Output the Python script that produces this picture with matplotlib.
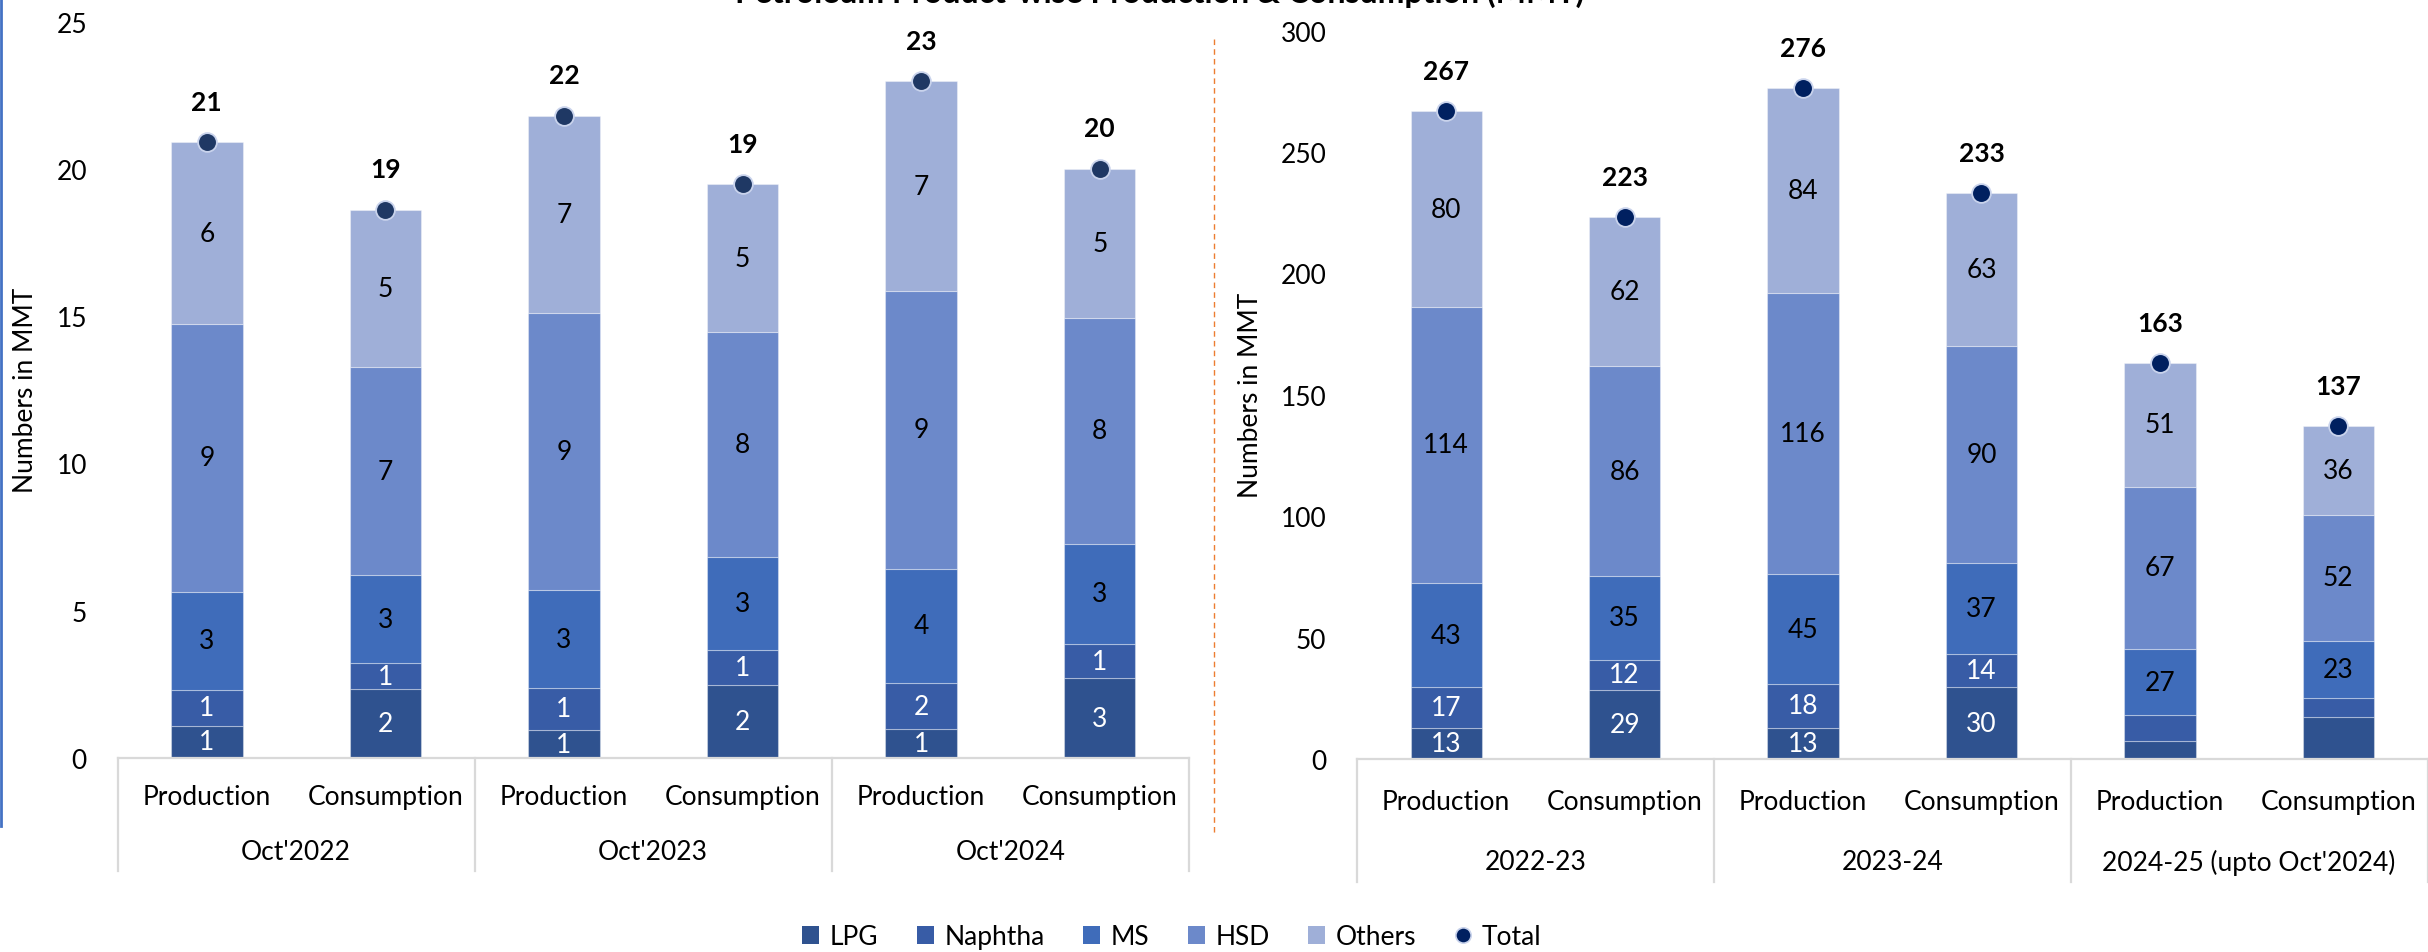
import matplotlib
matplotlib.use('Agg')
import matplotlib.pyplot as plt
from matplotlib.patches import Patch
from matplotlib.lines import Line2D

# ---------------- data ----------------
series_names = ['LPG', 'Naphtha', 'MS', 'HSD', 'Others']
sub_cats = ['Production', 'Consumption']
left_groups = ["Oct'2022", "Oct'2023", "Oct'2024"]
right_groups = ['2022-23', '2023-24', "2024-25 (upto Oct'2024)"]

left_lpg = [1.10, 2.34, 0.95, 2.47, 0.97, 2.70]
left_naphtha = [1.20, 0.87, 1.43, 1.20, 1.57, 1.18]
left_ms = [3.35, 2.99, 3.32, 3.15, 3.89, 3.40]
left_hsd = [9.10, 7.07, 9.40, 7.64, 9.43, 7.66]
left_others = [6.15, 5.35, 6.71, 5.02, 7.11, 5.07]
left_total = [20.90, 18.62, 21.81, 19.48, 22.97, 20.01]

right_lpg = [12.8, 28.6, 12.8, 29.6, 7.3, 17.4]
right_naphtha = [16.8, 12.2, 18.1, 13.6, 10.7, 7.8]
right_ms = [42.8, 34.6, 45.1, 37.4, 27.2, 23.4]
right_hsd = [113.9, 86.3, 116.1, 89.6, 67.0, 52.0]
right_others = [80.4, 61.6, 84.2, 62.9, 50.8, 36.4]
right_total = [266.7, 223.3, 276.3, 233.1, 163.0, 137.0]

left_yticks = [0, 5, 10, 15, 20, 25]
right_yticks = [0, 50, 100, 150, 200, 250, 300]

# ---------------- style ----------------
plt.rcParams['font.family'] = ['Lato', 'DejaVu Sans']
FS = 19
colors = ['#2F528F', '#385CA6', '#3F6CBA', '#6C89CA', '#9FAFD8']
label_colors = ['white', 'white', 'black', 'black', 'black']
edge = (1, 1, 1, 0.35)
W, H = 2428, 953

fig = plt.figure(figsize=(W / 100, H / 100), dpi=100)


def draw_panel(ax, stacks, totals, groups, ylim, yticks, marker_color,
               hide, sub_off, grp_off, sep_frac):
    x = list(range(len(totals)))
    bottom = [0.0] * len(x)
    for i, vals in enumerate(stacks):
        bars = ax.bar(x, vals, width=0.4, bottom=bottom, color=colors[i],
                      edgecolor=edge, linewidth=0.8, zorder=2)
        for j, rect in enumerate(bars):
            if (i, j) in hide:
                continue
            ax.text(rect.get_x() + rect.get_width() / 2, bottom[j] + vals[j] / 2,
                    f"{vals[j]:.0f}", ha='center', va='center',
                    color=label_colors[i], fontsize=FS, zorder=4)
        bottom = [b + v for b, v in zip(bottom, vals)]
    ax.plot(x, totals, linestyle='none', marker='o', ms=13.5,
            mfc=marker_color, mec='#C9D3EC', mew=1.3, zorder=5, clip_on=False)
    for xi, t in zip(x, totals):
        ax.annotate(f"{t:.0f}", xy=(xi, t), xytext=(0, 29),
                    textcoords='offset points', ha='center', va='center',
                    fontweight='bold', fontsize=FS, zorder=6)
    ax.set_xlim(-0.5, len(x) - 0.5)
    ax.set_ylim(*ylim)
    ax.set_yticks(yticks)
    ax.set_xticks([])
    ax.tick_params(axis='y', length=0, pad=22, labelsize=FS, colors='black')
    for s in ['top', 'right', 'left']:
        ax.spines[s].set_visible(False)
    ax.spines['bottom'].set_color('#D9D9D9')
    ax.spines['bottom'].set_linewidth(1.6)
    ax.set_ylabel('Numbers in MMT', fontsize=FS, labelpad=13)
    # multi-level category axis
    for j, xi in enumerate(x):
        ax.annotate(sub_cats[j % 2], xy=(xi, 0), xycoords=('data', 'axes fraction'),
                    xytext=(0, -sub_off), textcoords='offset points',
                    ha='center', va='center', fontsize=FS, annotation_clip=False)
    for g, name in enumerate(groups):
        ax.annotate(name, xy=(2 * g + 0.5, 0), xycoords=('data', 'axes fraction'),
                    xytext=(0, -grp_off), textcoords='offset points',
                    ha='center', va='center', fontsize=FS, annotation_clip=False)
    for xs in [-0.5, 1.5, 3.5, 5.5]:
        ax.plot([xs, xs], [0, -sep_frac], transform=ax.get_xaxis_transform(),
                color='#D9D9D9', lw=1.6, clip_on=False)


ax1 = fig.add_axes([117.5 / W, 1 - 759 / H, 1071.5 / W, 736.3 / H])
draw_panel(ax1, [left_lpg, left_naphtha, left_ms, left_hsd, left_others],
           left_total, left_groups, (0, 25), left_yticks, '#1F3864', set(),
           sub_off=38.5 * 0.72, grp_off=94 * 0.72, sep_frac=113 / 736.3)

ax2 = fig.add_axes([1357 / W, 1 - 760 / H, 1070.5 / W, 728.4 / H])
draw_panel(ax2, [right_lpg, right_naphtha, right_ms, right_hsd, right_others],
           right_total, right_groups, (0, 300), right_yticks, '#002060',
           {(0, 4), (0, 5), (1, 4), (1, 5)},
           sub_off=43 * 0.72, grp_off=103 * 0.72, sep_frac=123 / 728.4)

# legend
handles = [Patch(facecolor=c, edgecolor='none') for c in colors]
handles.append(Line2D([], [], linestyle='none', marker='o', ms=11,
                      mfc='#002060', mec='#C9D3EC', mew=1.2))
fig.legend(handles, series_names + ['Total'], loc='center',
           bbox_to_anchor=(1172 / W, 1 - 938 / H), ncol=6, frameon=False,
           fontsize=FS, handlelength=0.65, handleheight=0.68,
           handletextpad=0.4, columnspacing=1.45)

# title (partly cut off at top, as in the reference)
fig.text(1160 / W, 1 - 2.5 / H,
         'Petroleum Product-wise Production & Consumption (MMT)',
         ha='center', va='baseline', fontsize=23, fontweight='bold')

# decorative lines
fig.add_artist(Line2D([1 / W, 1 / W], [1, 1 - 827 / H], transform=fig.transFigure,
                      color='#4472C4', lw=2))
fig.add_artist(Line2D([1214 / W, 1214 / W], [1 - 40 / H, 1 - 836 / H],
                      transform=fig.transFigure, color='#ED7D31', lw=1,
                      linestyle=(0, (4, 3))))

fig.savefig('out.png', dpi=100)
